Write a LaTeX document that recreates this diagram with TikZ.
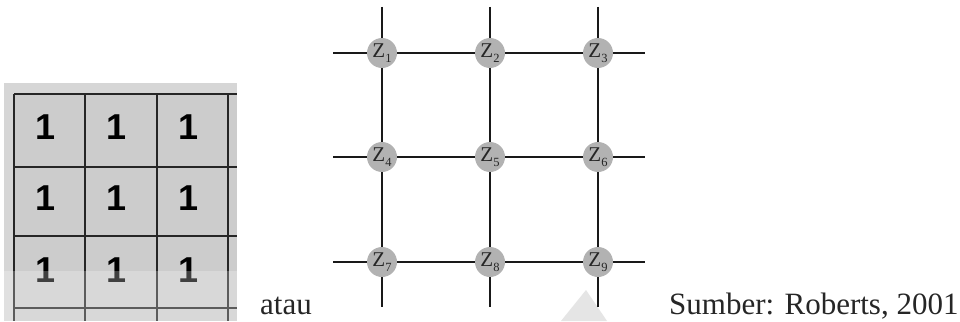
\documentclass[tikz,border=0pt]{standalone}
\usepackage{fontspec}
\setmainfont{Liberation Serif}
\newfontfamily\digitfont{Liberation Sans}
\begin{document}
\begin{tikzpicture}[x=1pt,y=-1pt,
  gridline/.style={draw=black!85,line width=1.6pt},
  digit/.style={anchor=base,inner sep=0pt,font=\digitfont\bfseries\fontsize{36}{36}\selectfont},
  netline/.style={draw=black!90,line width=1.5pt},
  znode/.style={circle,fill=black!30,minimum size=30pt,inner sep=0pt,text=black!85},
  caption/.style={anchor=base west,inner sep=0pt,font=\fontsize{31}{32}\selectfont,text=black!85}]
\newcommand{\zlab}[1]{\fontsize{21}{21}\selectfont Z\raisebox{-5pt}{\fontsize{12.5}{12.5}\selectfont #1}}
\useasboundingbox (0,0) rectangle (960,321);
\fill[white] (0,0) rectangle (960,321);
% ---------- left panel ----------
\fill[black!16] (4,83) rectangle (237,321);
\fill[black!20] (14,94) rectangle (237,321);
\foreach \x in {14,85,157,228} \draw[gridline] (\x,94) -- (\x,321);
\foreach \y in {94,167,236,308} \draw[gridline] (14,\y) -- (237,\y);
\foreach \y [count=\r] in {139,210,282}
  \foreach \x [count=\c] in {46,117,189}
    \node[digit] (d\r\c) at (\x,\y) {1};
\fill[white,opacity=0.25] (4,271) rectangle (237,321);
% ---------- right panel ----------
\fill[black!10] (561,321) -- (586,290) -- (607,321) -- cycle;
\foreach \y [count=\r] in {53,157,262}
  \foreach \x [count=\c] in {382,490,598}
    \coordinate (p\r\c) at (\x,\y);
\foreach \c/\x in {1/382,2/490,3/598} {
  \coordinate (t\c) at (\x,7);
  \coordinate (b\c) at (\x,307);
  \draw[netline] (t\c) -- (p1\c) -- (p2\c) -- (p3\c) -- (b\c);
}
\foreach \r/\y in {1/53,2/157,3/262} {
  \coordinate (l\r) at (333,\y);
  \coordinate (rr\r) at (645,\y);
  \draw[netline] (l\r) -- (p\r1) -- (p\r2) -- (p\r3) -- (rr\r);
}
\foreach \r in {1,2,3}
  \foreach \c in {1,2,3} {
    \pgfmathtruncatemacro{\k}{3*(\r-1)+\c}
    \node[znode] (z\k) at (p\r\c) {\zlab{\k}};
  }
% ---------- captions ----------
\node[caption] (atau) at (260,314) {atau};
\node[caption] (src) at (669,314) {Sumber: Roberts, 2001};
\end{tikzpicture}
\end{document}
